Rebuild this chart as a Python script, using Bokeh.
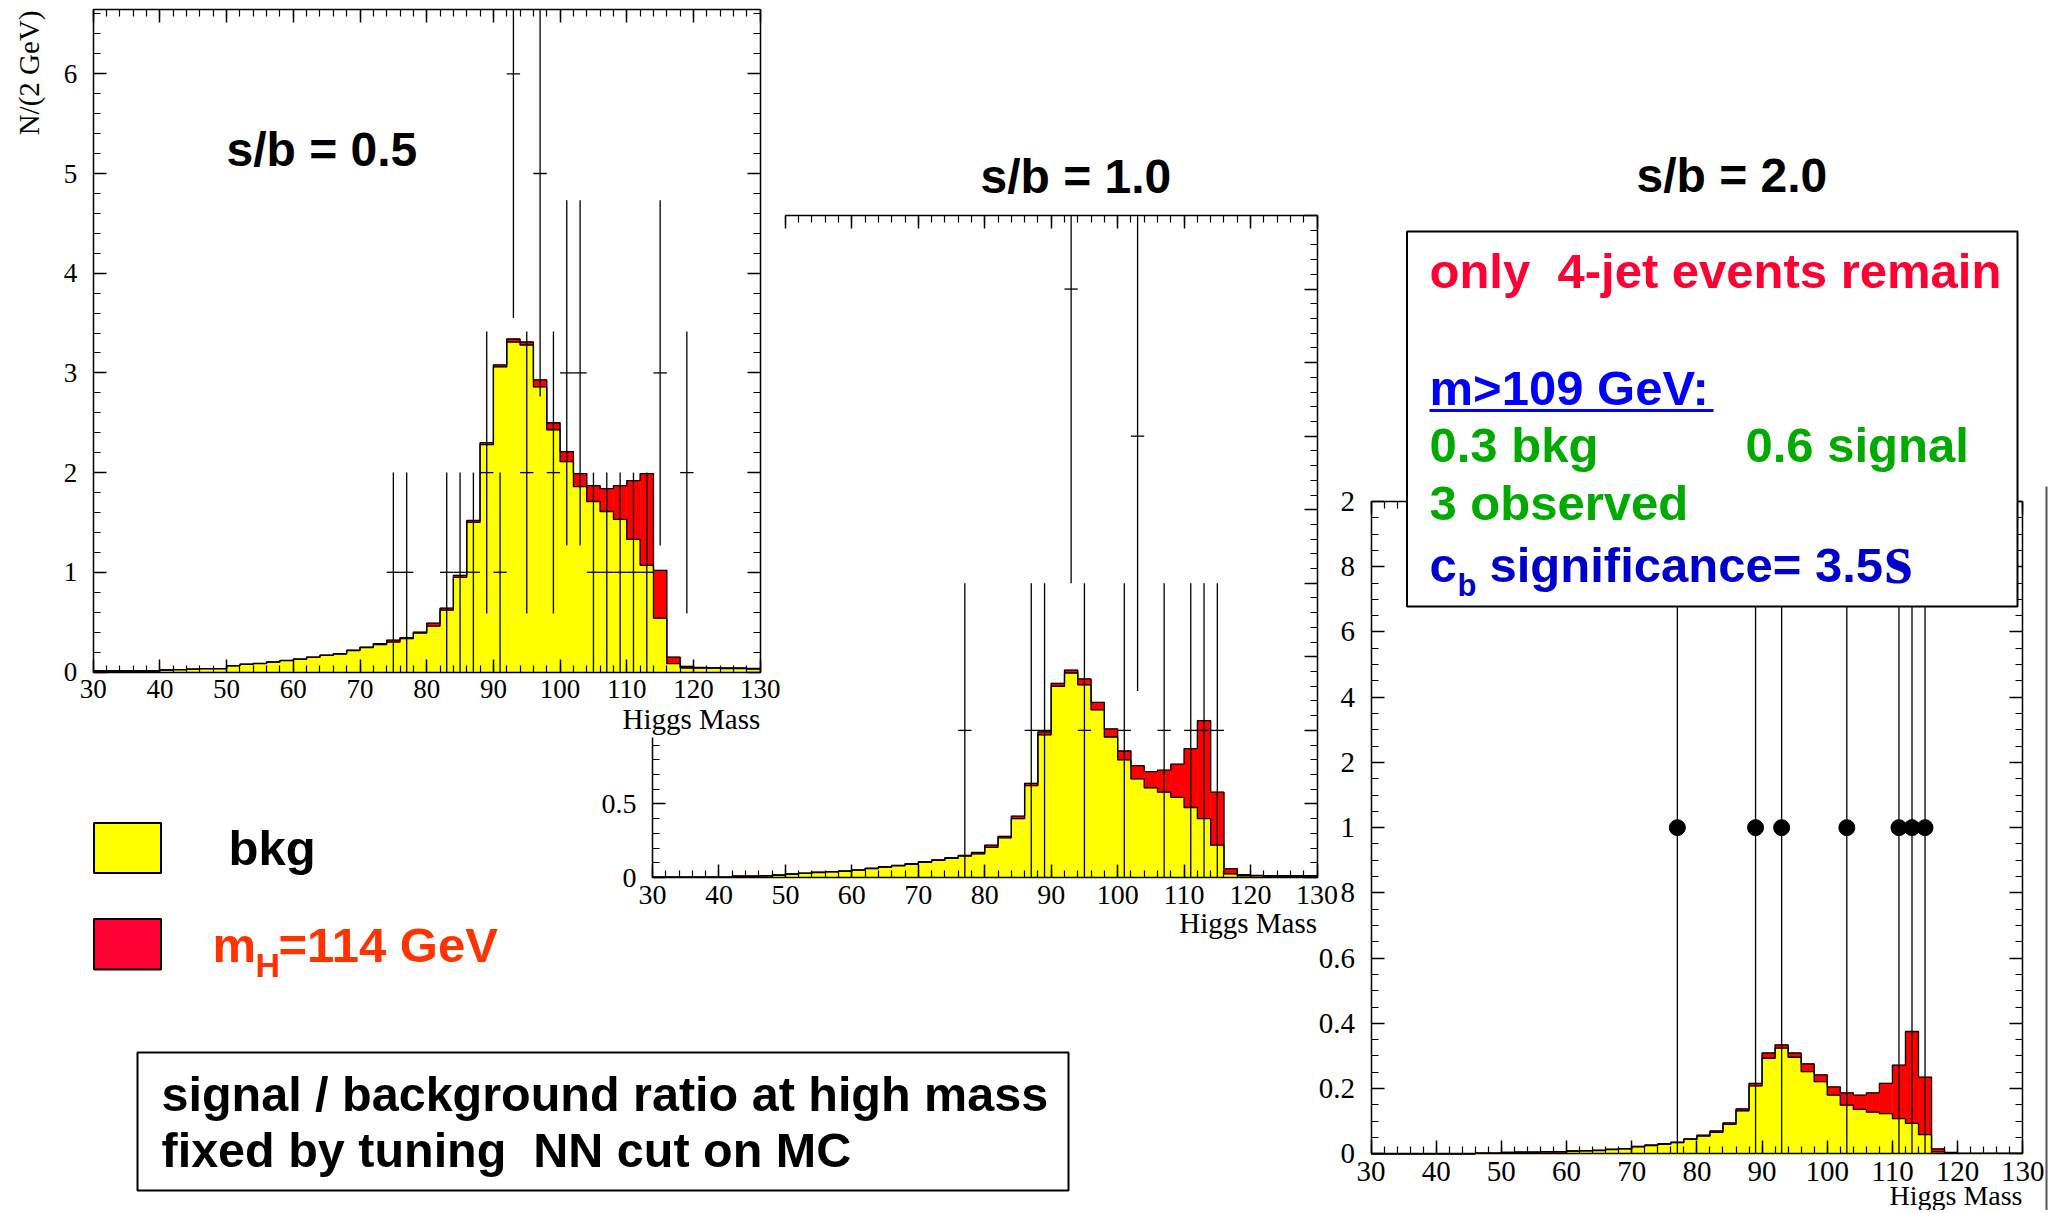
import math
import numpy as np
from bokeh.plotting import figure
from bokeh.models import Range1d, LinearAxis, FixedTicker
from bokeh.core.properties import value
from bokeh.embed import file_html
from bokeh.resources import INLINE

# ---------------- data (2 GeV bins, 30..130) ----------------
BIN_EDGES = list(range(30, 132, 2))

P1_BKG = [0.01, 0.01, 0.01, 0.01, 0.01,
          0.02, 0.024, 0.028, 0.033, 0.033,
          0.062, 0.076, 0.085, 0.10, 0.114,
          0.128, 0.147, 0.166, 0.18, 0.215,
          0.245, 0.275, 0.30, 0.335, 0.39,
          0.46, 0.62, 0.95, 1.50, 2.28,
          3.06, 3.31, 3.28, 2.86, 2.43,
          2.11, 1.86, 1.71, 1.61, 1.53,
          1.33, 1.07, 0.54, 0.085, 0.04,
          0.04, 0.04, 0.035, 0.035, 0.03]
P1_SIG = [0, 0, 0, 0, 0,
          0, 0, 0, 0, 0,
          0.002, 0.002, 0.002, 0.002, 0.002,
          0.002, 0.003, 0.004, 0.005, 0.005,
          0.005, 0.01, 0.02, 0.01, 0.01,
          0.03, 0.02, 0.02, 0.02, 0.02,
          0.02, 0.03, 0.03, 0.07, 0.07,
          0.10, 0.13, 0.16, 0.23, 0.34,
          0.59, 0.92, 0.48, 0.065, 0.017,
          0.005, 0.002, 0.005, 0.005, 0.005]
P1_OBS_X = [75, 77, 83, 85, 87, 89, 91, 93, 95, 97, 99, 101, 103, 105, 107, 109, 111, 113, 115, 119]
P1_OBS_N = [1, 1, 1, 1, 1, 2, 1, 6, 2, 5, 2, 3, 3, 1, 1, 1, 1, 1, 3, 2]

P2_BKG = [0.003, 0.003, 0.003, 0.003, 0.003,
          0.003, 0.01, 0.01, 0.012, 0.015,
          0.022, 0.028, 0.034, 0.038, 0.042,
          0.05, 0.06, 0.07, 0.08, 0.09,
          0.103, 0.116, 0.13, 0.145, 0.16,
          0.205, 0.27, 0.40, 0.625, 0.97,
          1.30, 1.39, 1.31, 1.14, 0.955,
          0.80, 0.67, 0.61, 0.58, 0.545,
          0.476, 0.40, 0.22, 0.024, 0.012,
          0.012, 0.01, 0.01, 0.01, 0.01]
P2_SIG = [0, 0, 0, 0, 0,
          0, 0, 0, 0, 0.002,
          0.002, 0.002, 0.002, 0.002, 0.003,
          0.002, 0.003, 0.003, 0.003, 0.004,
          0.004, 0.004, 0.005, 0.005, 0.01,
          0.015, 0.01, 0.017, 0.015, 0.02,
          0.02, 0.02, 0.04, 0.05, 0.055,
          0.06, 0.09, 0.11, 0.15, 0.225,
          0.40, 0.666, 0.36, 0.036, 0.008,
          0.002, 0.002, 0.002, 0.002, 0.002]
P2_OBS_X = [77, 87, 89, 93, 95, 101, 103, 107, 111, 113, 115]
P2_OBS_N = [1, 1, 1, 4, 1, 1, 3, 1, 1, 1, 1]

P3_BKG = [0, 0, 0, 0, 0,
          0, 0, 0, 0.002, 0.002,
          0.004, 0.005, 0.005, 0.006, 0.006,
          0.008, 0.009, 0.01, 0.013, 0.015,
          0.021, 0.025, 0.029, 0.034, 0.044,
          0.054, 0.066, 0.09, 0.132, 0.208,
          0.293, 0.324, 0.296, 0.252, 0.221,
          0.18, 0.149, 0.136, 0.128, 0.123,
          0.108, 0.093, 0.059, 0.006, 0.002,
          0.001, 0.001, 0.001, 0.001, 0.001]
P3_SIG = [0, 0, 0, 0, 0,
          0, 0, 0, 0, 0,
          0, 0, 0, 0, 0,
          0.001, 0.001, 0.001, 0.001, 0.001,
          0.002, 0.002, 0.002, 0.002, 0.002,
          0.003, 0.004, 0.005, 0.006, 0.008,
          0.016, 0.01, 0.013, 0.024, 0.021,
          0.025, 0.038, 0.044, 0.059, 0.093,
          0.164, 0.282, 0.176, 0.009, 0.002,
          0, 0, 0, 0, 0]
P3_OBS_X = [77, 89, 93, 103, 111, 113, 115]
P3_OBS_N = [1, 1, 1, 1, 1, 1, 1]

# ---------------- ticks ----------------
X_TICKS = [30, 40, 50, 60, 70, 80, 90, 100, 110, 120, 130]
X_MINOR = list(range(30, 131, 2))
P1_Y_TICKS = [0, 1, 2, 3, 4, 5, 6]
P1_Y_LABELS = ["0", "1", "2", "3", "4", "5", "6"]
P1_Y_MINOR = [round(0.2 * i, 6) for i in range(34)]
P2_Y_TICKS = [0, 0.5, 1, 1.5, 2, 2.5, 3, 3.5, 4, 4.5]
P2_Y_LABELS = ["0", "0.5", "1", "1.5", "2", "2.5", "3", "3.5", "4", "4.5"]
P2_Y_MINOR = [round(0.1 * i, 6) for i in range(46)]
P3_Y_TICKS = [0, 0.2, 0.4, 0.6, 0.8, 1, 1.2, 1.4, 1.6, 1.8, 2]
P3_Y_LABELS = ["0", "0.2", "0.4", "0.6", "8", "1", "2", "4", "6", "8", "2"]
P3_Y_MINOR = [round(0.05 * i, 6) for i in range(41)]

# ---------------- canvas ----------------
W, H = 2060, 1210
p = figure(width=W, height=H, x_range=Range1d(0, W), y_range=Range1d(H, 0),
           x_axis_type=None, y_axis_type=None, toolbar_location=None,
           output_backend="svg", min_border=0, outline_line_color=None)
p.background_fill_color = "white"
p.border_fill_color = "white"


def xmap(d0, X0, d1, X1):
    s = (X1 - X0) / (d1 - d0)
    start = d0 - X0 / s
    return Range1d(start, start + W / s)


def ymap(d0, Y0, d1, Y1):
    b0, b1 = H - Y0, H - Y1
    s = (b1 - b0) / (d1 - d0)
    start = d0 - b0 / s
    return Range1d(start, start + H / s)


P1_YMAX, P2_YMAX, P3_YMAX = 6.65, 4.5, 2.0
p.extra_x_ranges = {"x1": xmap(30, 92.7, 130, 759.7),
                    "x2": xmap(30, 652.0, 130, 1316.5),
                    "x3": xmap(30, 1370.5, 130, 2022.3)}
p.extra_y_ranges = {"y1": ymap(0, 671.5, P1_YMAX, 8.5),
                    "y2": ymap(0, 877.0, P2_YMAX, 215.0),
                    "y3": ymap(0, 1153.3, P3_YMAX, 501.0)}


def axis(side, xn, yn, loc, lo, hi, ticks, minor, labels=None, show=False,
         size="27px", standoff=8):
    t = [v for v in ticks if lo - 1e-9 <= v <= hi + 1e-9]
    m = [v for v in minor if lo - 1e-9 <= v <= hi + 1e-9]
    ax = LinearAxis(x_range_name=xn, y_range_name=yn, fixed_location=loc, bounds=(lo, hi),
                    ticker=FixedTicker(ticks=t, minor_ticks=m),
                    major_tick_in=13, major_tick_out=0, minor_tick_in=7, minor_tick_out=0,
                    axis_line_width=1.5, major_tick_line_width=1.5, minor_tick_line_width=1.2,
                    axis_line_color="black", major_tick_line_color="black",
                    minor_tick_line_color="black",
                    major_label_standoff=standoff,
                    major_label_text_font="Liberation Serif",
                    major_label_text_font_size=size,
                    major_label_text_font_style="normal",
                    major_label_text_color="black" if show else None)
    if labels is not None:
        ax.major_label_overrides = {k: v for k, v in zip(ticks, labels) if k in t}
    p.add_layout(ax, side)


def frame_axes(n, ymax, yt, yl, ym, size, left_hi=None, top_lo=30):
    xn, yn = "x" + n, "y" + n
    axis("below", xn, yn, 0, 30, 130, X_TICKS, X_MINOR, show=True, size=size, standoff=8)
    axis("left", xn, yn, 30, 0, left_hi if left_hi is not None else ymax, yt, ym,
         labels=yl, show=True, size=size, standoff=16)
    axis("above", xn, yn, ymax, top_lo, 130, X_TICKS, X_MINOR)
    axis("right", xn, yn, 130, 0, ymax, yt, ym)


def hist(n, bkg, sig):
    xn, yn = "x" + n, "y" + n
    edges = np.array(BIN_EDGES, dtype=float)
    bkg = np.array(bkg, dtype=float)
    tot = bkg + np.array(sig, dtype=float)
    p.quad(left=edges[:-1], right=edges[1:], bottom=0, top=bkg, fill_color="#FFFF00",
           line_color="#FFFF00", line_width=0.6, x_range_name=xn, y_range_name=yn)
    p.quad(left=edges[:-1], right=edges[1:], bottom=bkg, top=tot, fill_color="#FF0000",
           line_color="#FF0000", line_width=0.6, x_range_name=xn, y_range_name=yn)
    p.step(x=edges, y=np.append(bkg, bkg[-1]), mode="after", line_color="black",
           line_width=1.3, x_range_name=xn, y_range_name=yn)
    p.step(x=edges, y=np.append(tot, tot[-1]), mode="after", line_color="black",
           line_width=1.3, x_range_name=xn, y_range_name=yn)


def observed(n, xs, ns, ymax, dots=False):
    xn, yn = "x" + n, "y" + n
    xs = np.array(xs, dtype=float)
    ns = np.array(ns, dtype=float)
    err = np.sqrt(ns)
    p.segment(x0=xs, y0=ns - err, x1=xs, y1=np.minimum(ns + err, ymax), line_color="black",
              line_width=1.3, x_range_name=xn, y_range_name=yn)
    p.segment(x0=xs - 1, y0=ns, x1=xs + 1, y1=ns, line_color="black", line_width=1.3,
              x_range_name=xn, y_range_name=yn)
    if dots:
        p.scatter(x=xs, y=ns, size=16, fill_color="black", line_color="black",
                  x_range_name=xn, y_range_name=yn)


def label(x, base, s, size, color="black", font="Liberation Sans", style="bold",
          align="left", level="glyph"):
    # base = alphabetic baseline position; anchor on em-box middle
    p.text(x=[x], y=[base - 0.35 * size], text=[s], text_font=value(font),
           text_font_size=value(f"{size}px"), text_font_style=style, text_color=color,
           text_align=align, text_baseline="middle", level=level)


# ---------------- panels ----------------
hist("3", P3_BKG, P3_SIG)
observed("3", P3_OBS_X, P3_OBS_N, P3_YMAX, dots=True)
frame_axes("3", P3_YMAX, P3_Y_TICKS, P3_Y_LABELS, P3_Y_MINOR, "29px")

hist("2", P2_BKG, P2_SIG)
observed("2", P2_OBS_X, P2_OBS_N, P2_YMAX)
frame_axes("2", P2_YMAX, P2_Y_TICKS, P2_Y_LABELS, P2_Y_MINOR, "28px",
           left_hi=0.95, top_lo=50)

hist("1", P1_BKG, P1_SIG)
observed("1", P1_OBS_X, P1_OBS_N, P1_YMAX)
frame_axes("1", P1_YMAX, P1_Y_TICKS, P1_Y_LABELS, P1_Y_MINOR, "27px")

# axis titles and panel titles
p.text(x=[28], y=[10], text=["N/(2 GeV)"], text_font=value("Liberation Serif"),
       text_font_size=value("29px"), text_color="black", text_align="right",
       text_baseline="middle", angle=math.pi / 2)
label(759.7, 729, "Higgs Mass", 29, font="Liberation Serif", style="normal", align="right")
label(1316.5, 933, "Higgs Mass", 29, font="Liberation Serif", style="normal", align="right")
label(2022, 1205, "Higgs Mass", 28, font="Liberation Serif", style="normal", align="right")
label(226, 166, "s/b = 0.5", 48)
label(980, 193, "s/b = 1.0", 48)
label(1636, 192, "s/b = 2.0", 48)

# image border at right
p.segment(x0=[2046], y0=[486], x1=[2046], y1=[1210], line_color="#555555", line_width=2)

# legend
p.quad(left=[93.5], right=[160.5], top=[822.5], bottom=[872.5], fill_color="#FFFF00",
       line_color="black", line_width=2)
p.quad(left=[93.5], right=[160.5], top=[918.5], bottom=[969], fill_color="#FF0033",
       line_color="black", line_width=2)
label(228, 865, "bkg", 49)
label(212, 962, "m", 49, color="#FF3300")
label(255, 976, "H", 34, color="#FF3300")
label(278, 962, "=114 GeV", 49, color="#FF3300")

# bottom note box
p.quad(left=[137], right=[1068], top=[1052], bottom=[1190], fill_color="white",
       line_color="black", line_width=2)
label(161, 1110, "signal / background ratio at high mass", 48.5)
label(161, 1166, "fixed by tuning \u00a0NN cut on MC", 48.5)

# info box over panel 3
p.quad(left=[1406.5], right=[2017], top=[231], bottom=[606], fill_color="white",
       line_color="black", line_width=2, level="overlay")
label(1429, 288, "only \u00a04-jet events remain", 49, color="#FF0033", level="overlay")
label(1429, 405, "m>109 GeV:", 49, color="#0000FF", level="overlay")
p.segment(x0=[1429], y0=[410], x1=[1713], y1=[410], line_color="#0000FF",
          line_width=3, level="overlay")
label(1429, 462, "0.3 bkg", 49, color="#00AA00", level="overlay")
label(1745, 462, "0.6 signal", 49, color="#00AA00", level="overlay")
label(1429, 520, "3 observed", 49, color="#00AA00", level="overlay")
label(1429, 582, "c", 49, color="#0000CC", level="overlay")
label(1457, 596, "b", 31, color="#0000CC", level="overlay")
label(1489, 582, "significance= 3.5", 49, color="#0000CC", level="overlay")
label(1884, 584, "s", 72, color="#0000CC", font="Liberation Serif", level="overlay")

open("out.html", "w").write(file_html(p, INLINE))
